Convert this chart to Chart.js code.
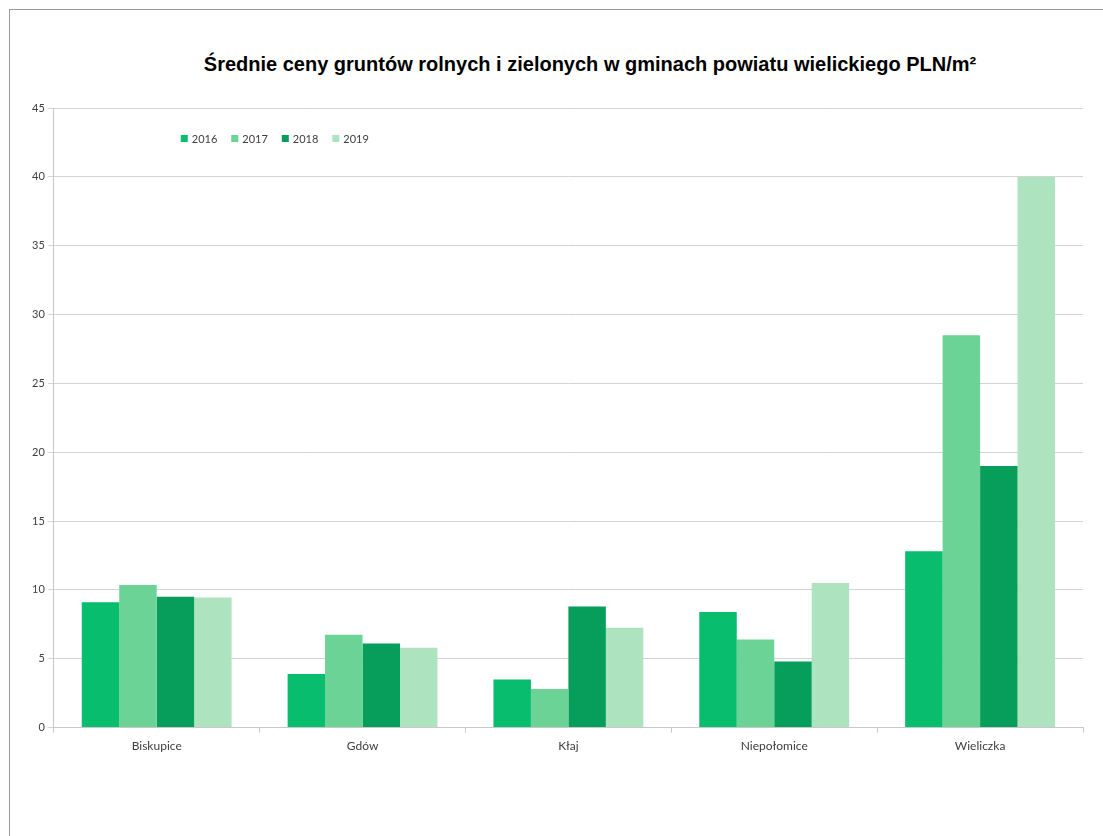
<!DOCTYPE html>
<html lang="pl">

<head>
    <meta charset="UTF-8">
    <meta name="viewport" content="width=device-width, initial-scale=1.0">
    <script src="https://cdn.jsdelivr.net/npm/chart.js"></script>
    <title>Średnie ceny gruntów rolnych i zielonych</title>
    <style>
        html, body { margin: 0; padding: 0; background: #fff; overflow: hidden; }
        .frame {
            position: absolute; left: 9px; top: 9px; width: 1110px; height: 840px;
            border-left: 1px solid #9a9a9a; border-top: 1px solid #9a9a9a;
        }
        .title {
            position: absolute; left: 140px; top: 53px; width: 900px; text-align: center;
            font-family: "Liberation Sans", Arial, sans-serif; font-weight: bold; font-size: 20px; color: #000;
        }
        .container { position: absolute; left: 0; top: 0; width: 1103px; height: 836px; }
    </style>
    <script>
        // gminy powiatu wielickiego
        const gminy = ['Biskupice', 'Gdów', 'Kłaj', 'Niepołomice', 'Wieliczka'];
        const lata = ['2016', '2017', '2018', '2019'];

        // średnie ceny PLN/m2 w kolejnych latach
        const ceny2016 = [9.1, 3.9, 3.5, 8.4, 12.8];
        const ceny2017 = [10.35, 6.75, 2.8, 6.4, 28.5];
        const ceny2018 = [9.5, 6.1, 8.8, 4.8, 19.0];
        const ceny2019 = [9.45, 5.8, 7.25, 10.5, 40.0];

        const kolory = ['#08be6e', '#6bd395', '#069e5a', '#ade3bf'];
        const yTicks = [0, 5, 10, 15, 20, 25, 30, 35, 40, 45];

        // legenda rysowana w obszarze wykresu, w lewym górnym rogu
        const legendaPlugin = {
            id: 'legendaWewnatrz',
            afterDraw(chart) {
                const ctx = chart.ctx;
                const area = chart.chartArea;
                let x = area.left + 127;
                const y = area.top + 31;
                ctx.save();
                ctx.font = '11px Lato, sans-serif';
                ctx.textBaseline = 'middle';
                chart.data.datasets.forEach(function (ds) {
                    ctx.fillStyle = ds.backgroundColor;
                    ctx.fillRect(x, y - 4, 7, 7);
                    ctx.fillStyle = '#404040';
                    ctx.fillText(ds.label, x + 11, y);
                    x += 11 + ctx.measureText(ds.label).width + 14;
                });
                ctx.restore();
            }
        };

        window.onload = function () {
            const serie = [ceny2016, ceny2017, ceny2018, ceny2019];
            const datasets = lata.map(function (rok, i) {
                return {
                    label: rok,
                    data: serie[i],
                    backgroundColor: kolory[i],
                    borderWidth: 0,
                    barPercentage: 1.0,
                    categoryPercentage: 0.728
                };
            });

            const ctx = document.getElementById('myChart');
            new Chart(ctx, {
                type: 'bar',
                data: { labels: gminy, datasets: datasets },
                options: {
                    responsive: true,
                    maintainAspectRatio: false,
                    animation: false,
                    layout: { padding: { top: 108, left: 29, right: 20, bottom: 77 } },
                    scales: {
                        x: {
                            grid: { drawOnChartArea: false, offset: true, tickLength: 5, color: '#c8c8c8' },
                            border: { color: '#c8c8c8' },
                            ticks: { font: { family: 'Lato', size: 12 }, color: '#404040', padding: 6 }
                        },
                        y: {
                            min: 0,
                            max: 45,
                            afterBuildTicks: function (axis) {
                                axis.ticks = yTicks.map(function (v) { return { value: v }; });
                            },
                            grid: { color: '#d4d4d4', tickLength: 6 },
                            border: { color: '#c8c8c8' },
                            ticks: { font: { family: 'Lato', size: 11 }, color: '#404040', padding: 3 }
                        }
                    },
                    plugins: {
                        legend: { display: false },
                        tooltip: { enabled: false }
                    }
                },
                plugins: [legendaPlugin]
            });
        };
    </script>
</head>

<body>
    <div class="frame"></div>
    <div class="title">Średnie ceny gruntów rolnych i zielonych w gminach powiatu wielickiego PLN/m²</div>
    <div class="container">
        <canvas id="myChart"></canvas>
    </div>
</body>

</html>
